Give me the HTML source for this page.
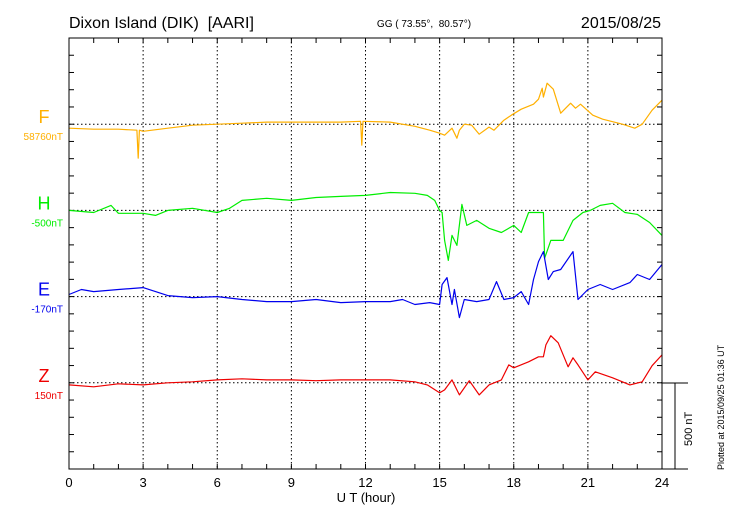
<!DOCTYPE html>
<html><head><meta charset="utf-8"><style>
body{margin:0;background:#fff;}
svg{display:block;font-family:"Liberation Sans",sans-serif;}
text{white-space:pre;}
</style></head><body>
<svg id="chart" width="730" height="520" viewBox="0 0 730 520" xmlns="http://www.w3.org/2000/svg">
<text x="69" y="28" font-size="16">Dixon Island (DIK)&#160; [AARI]</text>
<text x="424" y="27" font-size="10" text-anchor="middle">GG ( 73.55°,&#160; 80.57°)</text>
<text x="661" y="28" font-size="16" text-anchor="end">2015/08/25</text>
<text x="366" y="502" font-size="13" text-anchor="middle">U T (hour)</text>
<text transform="translate(724,470) rotate(-90)" font-size="9">Plotted at 2015/09/25 01:36 UT</text>
<g id="grid"></g>
<g id="series"></g>
<g id="labels"></g>
<rect x="69" y="38" width="593" height="431" fill="none" stroke="#000" stroke-width="1"/>
<g stroke="#000" stroke-width="1">
<line x1="662" y1="383" x2="688" y2="383"/><line x1="675" y1="383" x2="675" y2="469"/><line x1="662" y1="469" x2="688" y2="469"/>
</g>
<text transform="translate(692,446) rotate(-90)" font-size="11">500 nT</text>
</svg>
<script>
const xTicks=[0,3,6,9,12,15,18,21,24];
const compNames=["F","H","E","Z"];
const compBase=["58760nT","-500nT","-170nT","150nT"];
const compColors=["#ffb000","#00ee00","#0000ee","#ee0000"];
const fHours=[0,1,2,2.75,2.8,2.85,3,4,5,6,7,8,9,10,11,11.8,11.85,11.9,13,14,14.6,15,15.2,15.5,15.7,15.8,16,16.3,16.6,17,17.2,17.6,17.9,18.3,18.8,19.0,19.15,19.2,19.35,19.6,19.9,20.3,20.5,20.7,21.2,21.6,22.4,22.9,23.2,23.6,24];
const fValues=[-23,-29,-29,-35,-197,-35,-41,-23,-6,0,6,12,12,12,12,17,-122,17,12,-12,-35,-52,-64,-23,-81,-35,0,-6,-58,-17,-35,23,52,87,116,145,209,157,238,203,64,122,93,116,52,29,0,-23,0,81,139];
const hHours=[0,1,1.7,2,3,3.5,4,5,6,6.5,7,8,9,10,11,12,13,14,14.5,14.8,15,15.1,15.2,15.35,15.5,15.7,15.9,16.1,16.5,17,17.5,18,18.3,18.6,19.2,19.25,19.5,20,20.2,20.4,20.8,21.1,21.5,22,22.5,23,23.5,24];
const hValues=[0,-12,29,-17,-17,-29,0,12,-12,12,58,70,58,75,81,87,104,99,87,58,0,-12,-174,-290,-145,-203,35,-87,-58,-104,-128,-87,-128,-12,-12,-278,-174,-174,-116,-58,-12,0,29,41,-12,-23,-70,-145];
const eHours=[0,0.5,1,2,3,3.5,4,5,6,7,8,9,10,11,12,13,13.5,14,14.6,15,15.1,15.3,15.5,15.6,15.8,16,16.5,17,17.3,17.6,18,18.3,18.6,18.8,19.0,19.2,19.4,19.6,19.9,20.4,20.6,21,21.5,22,22.7,23,23.5,24];
const eValues=[12,41,29,41,52,29,6,-6,0,-17,-29,-29,-17,-35,-29,-29,-17,-46,-35,-46,70,110,-46,41,-122,-17,-29,-17,87,-17,-6,29,-46,99,203,261,99,145,157,261,-17,41,70,41,81,128,99,186];
const zHours=[0,1,2,3,4,5,6,7,8,9,10,11,12,13,14,14.5,15,15.2,15.5,15.6,15.8,16.2,16.6,17,17.5,17.8,18,18.6,19,19.2,19.3,19.5,19.8,20.2,20.4,20.6,21,21.3,22,22.7,23.2,23.6,24];
const zValues=[-12,-23,-6,-12,0,6,17,23,17,17,12,17,17,17,6,-12,-58,-41,17,-12,-70,12,-70,-12,17,104,87,122,151,151,220,273,232,93,145,104,17,64,29,-12,6,99,162];
const X0=69,X1=662,Y0=38,Y1=469;
const xs=h=>X0+(X1-X0)*h/24;
const pxPerNT=86.2/500;
const baseY=k=>Y0+86.2*(k+1);
const ys=(k,v)=>baseY(k)-v*pxPerNT;
const NS="http://www.w3.org/2000/svg";
function mk(tag,attrs,parent){const e=document.createElementNS(NS,tag);for(const a in attrs)e.setAttribute(a,attrs[a]);parent.appendChild(e);return e;}
const grid=document.getElementById('grid');
for(let h=0;h<=24;h++){
  const t1=mk('line',{x1:xs(h),y1:Y0,x2:xs(h),y2:Y0+5,stroke:'#000'},grid);
  
  
  const t2=mk('line',{x1:xs(h),y1:Y1,x2:xs(h),y2:Y1-5,stroke:'#000'},grid);
  
  
}
xTicks.forEach(h=>{
  if(h>0&&h<24){
    const g=mk('line',{x1:xs(h),y1:Y0,x2:xs(h),y2:Y1,stroke:'#000','stroke-dasharray':'1.5,2.5'},grid);
    
    
  }
  const t=mk('text',{x:xs(h),y:487,'font-size':13,'text-anchor':'middle'},grid);
  t.textContent=h;
  
  
});
for(let i=1;i<25;i++){
  const y=Y0+i*(Y1-Y0)/25;
  const a=mk('line',{x1:X0,y1:y,x2:X0+5,y2:y,stroke:'#000'},grid);
  
  
  const b=mk('line',{x1:X1,y1:y,x2:X1-5,y2:y,stroke:'#000'},grid);
  
  
}
for(let k=0;k<4;k++){
  const l=mk('line',{x1:X0,y1:baseY(k),x2:X1,y2:baseY(k),stroke:'#000','stroke-dasharray':'1.5,2.5'},grid);
  
  
}
const series=document.getElementById('series');
const H=[fHours,hHours,eHours,zHours],V=[fValues,hValues,eValues,zValues];
for(let k=0;k<4;k++){
  const pts=H[k].map((h,i)=>xs(h).toFixed(1)+','+ys(k,V[k][i]).toFixed(1)).join(' ');
  const p=mk('polyline',{points:pts,fill:'none',stroke:compColors[k],'stroke-width':1.2,'stroke-linejoin':'round'},series);
  
  
}
const labels=document.getElementById('labels');
for(let k=0;k<4;k++){
  const t=mk('text',{x:44,y:baseY(k)-1,'font-size':18,fill:compColors[k],'text-anchor':'middle'},labels);
  t.textContent=compNames[k];
  
  
  const b=mk('text',{x:63,y:baseY(k)+16,'font-size':10,fill:compColors[k],'text-anchor':'end'},labels);
  b.textContent=compBase[k];
  
  
}
</script>
</body></html>
